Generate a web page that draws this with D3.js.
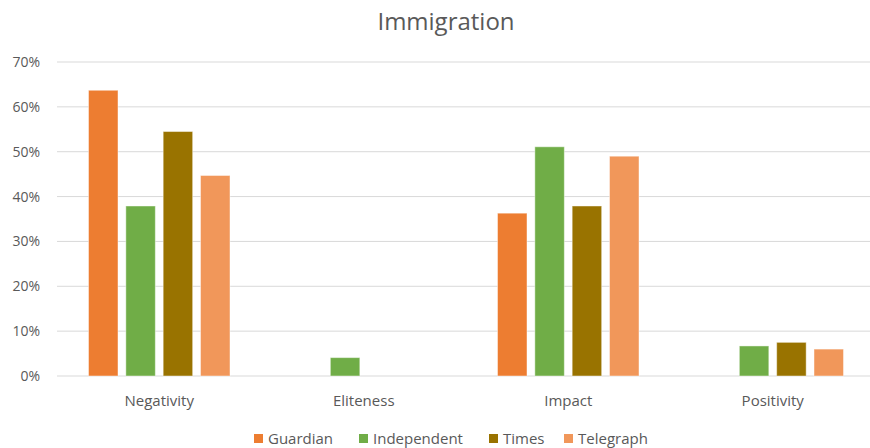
<!DOCTYPE html>
<html>
<head>
<meta charset="utf-8">
<script src="https://cdn.jsdelivr.net/npm/d3@7"></script>
<style>
  body { margin: 0; background: #fff; }
  text { font-family: "Open Sans", sans-serif; fill: #595959; }
</style>
</head>
<body>
<div id="chart"></div>
<script>
const categories = ['Negativity', 'Eliteness', 'Impact', 'Positivity'];
const seriesNames = ['Guardian', 'Independent', 'Times', 'Telegraph'];
const guardian = [0.637, 0, 0.363, 0];
const independent = [0.379, 0.041, 0.511, 0.067];
const times = [0.545, 0, 0.379, 0.075];
const telegraph = [0.447, 0, 0.490, 0.060];
const yTicks = [0, 0.1, 0.2, 0.3, 0.4, 0.5, 0.6, 0.7];
const colors = ['#ED7D31', '#70AD47', '#997300', '#F1975A'];

const values = [guardian, independent, times, telegraph];

const width = 870;
const height = 448;
const margin = {top: 62, left: 57, right: -5, bottom: 72};

const svg = d3.select('#chart').append('svg')
    .attr('width', width)
    .attr('height', height);

const x = d3.scaleBand()
    .domain(categories)
    .range([margin.left, width - margin.right])
    .padding(0);

const xInner = d3.scaleBand()
    .domain(seriesNames)
    .range([31.5, x.bandwidth() - 31.5])
    .paddingInner(0.21)
    .paddingOuter(0);

const y = d3.scaleLinear()
    .domain([0, 0.7])
    .range([height - margin.bottom, margin.top]);

// gridlines
svg.append('g')
    .selectAll('line')
    .data(yTicks)
    .enter()
    .append('line')
    .attr('x1', margin.left)
    .attr('x2', width)
    .attr('y1', d => y(d))
    .attr('y2', d => y(d))
    .attr('stroke', '#d9d9d9')
    .attr('stroke-width', 1);

// y labels
svg.append('g')
    .selectAll('text')
    .data(yTicks)
    .enter()
    .append('text')
    .attr('x', 40)
    .attr('y', d => y(d) + 5)
    .attr('text-anchor', 'end')
    .style('font-size', '14px')
    .text(d => d3.format('.0%')(d));

// bars
const groups = svg.append('g')
    .selectAll('g')
    .data(seriesNames)
    .enter()
    .append('g')
    .attr('fill', (d, i) => colors[i]);

groups.selectAll('rect')
    .data((s, i) => categories.map((c, j) => ({series: s, cat: c, v: values[i][j]})))
    .enter()
    .filter(d => d.v > 0)
    .append('rect')
    .attr('x', d => x(d.cat) + xInner(d.series))
    .attr('width', xInner.bandwidth())
    .attr('y', d => y(d.v))
    .attr('height', d => y(0) - y(d.v))
    .attr('stroke', 'rgba(255,255,255,0.45)')
    .attr('stroke-width', 1);

// x labels
svg.append('g')
    .selectAll('text')
    .data(categories)
    .enter()
    .append('text')
    .attr('x', d => x(d) + x.bandwidth() / 2)
    .attr('y', 406)
    .attr('text-anchor', 'middle')
    .style('font-size', '15px')
    .text(d => d);

// title
svg.append('text')
    .attr('x', 446)
    .attr('y', 30)
    .attr('text-anchor', 'middle')
    .style('font-size', '24px')
    .text('Immigration');

// legend
const legendX = [254, 359, 489, 564];
const legend = svg.append('g')
    .selectAll('g')
    .data(seriesNames)
    .enter()
    .append('g')
    .attr('transform', (d, i) => 'translate(' + legendX[i] + ',434)');

legend.append('rect')
    .attr('width', 9)
    .attr('height', 9)
    .attr('fill', (d, i) => colors[i]);

legend.append('text')
    .attr('x', 14)
    .attr('y', 10)
    .style('font-size', '15px')
    .text(d => d);
</script>
</body>
</html>
